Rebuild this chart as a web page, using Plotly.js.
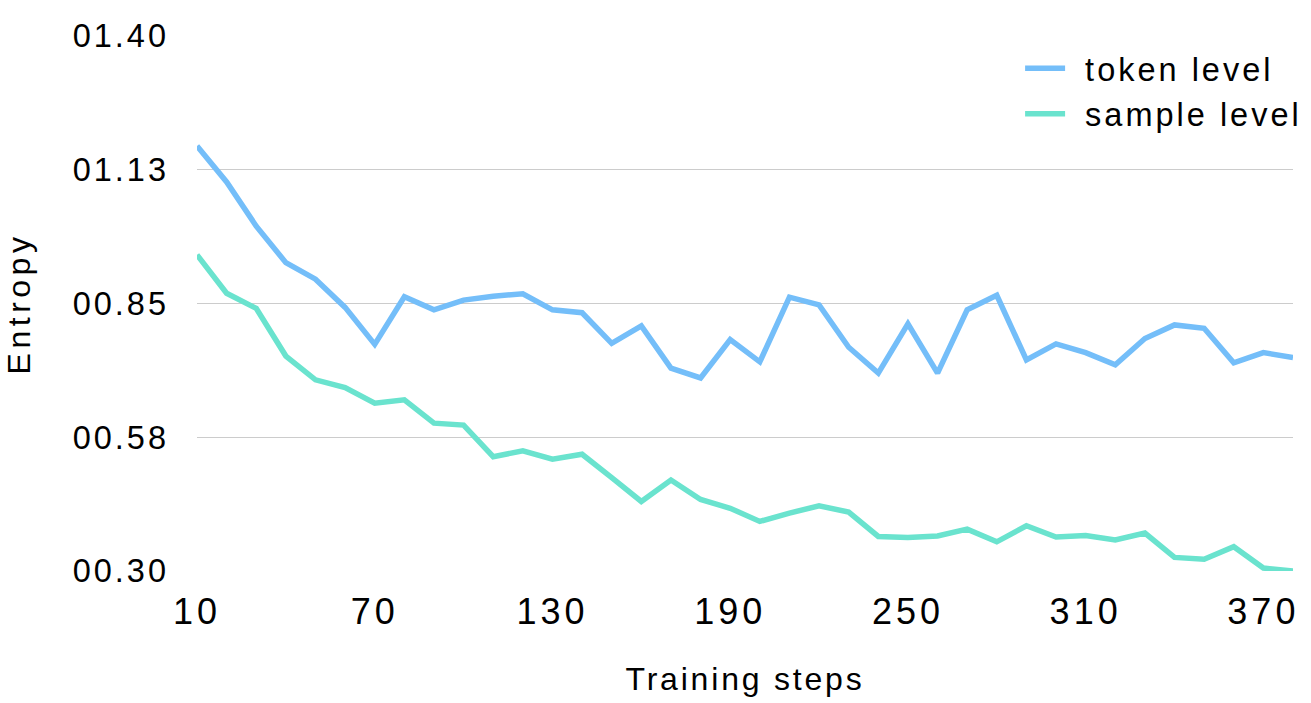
<!DOCTYPE html>
<html>
<head>
<meta charset="utf-8">
<script src="https://cdn.plot.ly/plotly-3.0.1.min.js"></script>
<style>
  html, body { margin: 0; padding: 0; background: #ffffff; }
  #chart { width: 1311px; height: 703px; }
  svg .ytick text { letter-spacing: 3px; }
  svg .xtick text { letter-spacing: 4px; }
  svg text.xtitle { letter-spacing: 2.8px; }
  svg text.ytitle { letter-spacing: 4.5px; }
  svg [class*="legend"] text { letter-spacing: 3px; transform: translateX(15px); }
  svg .scrollbox, svg [class*="legend"] .scrollbox { clip-path: none !important; }
</style>
</head>
<body>
<div id="chart"></div>
<script>
const steps = [10, 20, 30, 40, 50, 60, 70, 80, 90, 100, 110, 120, 130, 140, 150, 160, 170, 180, 190, 200,
               210, 220, 230, 240, 250, 260, 270, 280, 290, 300, 310, 320, 330, 340, 350, 360, 370, 380];
const tokenLevel = [1.174, 1.100, 1.009, 0.934, 0.900, 0.842, 0.766, 0.864, 0.837, 0.857,
                    0.865, 0.870, 0.837, 0.831, 0.768, 0.804, 0.717, 0.697, 0.776, 0.730,
                    0.863, 0.847, 0.760, 0.707, 0.808, 0.707, 0.837, 0.867, 0.734, 0.767,
                    0.749, 0.724, 0.778, 0.806, 0.799, 0.728, 0.749, 0.739];
const sampleLevel = [0.950, 0.871, 0.840, 0.742, 0.693, 0.677, 0.645, 0.652, 0.604, 0.600,
                     0.535, 0.547, 0.530, 0.540, 0.492, 0.443, 0.487, 0.447, 0.429, 0.402,
                     0.419, 0.434, 0.421, 0.371, 0.369, 0.372, 0.386, 0.360, 0.393, 0.370,
                     0.373, 0.364, 0.378, 0.328, 0.324, 0.350, 0.306, 0.300];
const xTickVals = [10, 70, 130, 190, 250, 310, 370];
const yTickVals = [0.30, 0.575, 0.85, 1.125, 1.40];
const yTickText = ["00.30", "00.58", "00.85", "01.13", "01.40"];
const seriesNames = ["token level", "sample level"];

const FONT = '"Liberation Sans", Arial, Helvetica, sans-serif';

const traces = [
  {
    x: steps, y: tokenLevel, name: seriesNames[0], type: 'scatter', mode: 'lines',
    line: { color: '#74BEF9', width: 5.5 }, legend: 'legend'
  },
  {
    x: steps, y: sampleLevel, name: seriesNames[1], type: 'scatter', mode: 'lines',
    line: { color: '#6AE3CE', width: 5.5 }, legend: 'legend2'
  }
];

const legendCommon = {
  xanchor: 'left', yanchor: 'middle', itemwidth: 40,
  bgcolor: 'rgba(0,0,0,0)', font: { family: FONT, size: 32.5, color: '#000' }
};

const layout = {
  width: 1311, height: 703,
  margin: { l: 197, r: 18, t: 36, b: 132 },
  paper_bgcolor: '#ffffff', plot_bgcolor: '#ffffff',
  font: { family: FONT, size: 32, color: '#000000' },
  xaxis: {
    range: [10, 380],
    tickvals: xTickVals,
    ticktext: xTickVals.map(String),
    showgrid: false, zeroline: false, showline: false,
    ticks: '', ticklabelstandoff: 16,
    tickfont: { family: FONT, size: 36, color: '#000' },
    title: { text: 'Training steps', font: { family: FONT, size: 32, color: '#000' }, standoff: 36 }
  },
  yaxis: {
    range: [0.30, 1.40],
    tickvals: yTickVals,
    ticktext: yTickText,
    showgrid: true, gridcolor: '#cccccc', gridwidth: 1,
    zeroline: false, showline: false,
    ticks: '', ticklabelstandoff: 27,
    tickfont: { family: FONT, size: 32.5, color: '#000' },
    title: { text: 'Entropy', font: { family: FONT, size: 32, color: '#000' }, standoff: 32 }
  },
  showlegend: true,
  legend: Object.assign({ x: 0.751, y: 0.939 }, legendCommon),
  legend2: Object.assign({ x: 0.751, y: 0.854 }, legendCommon)
};

Plotly.newPlot('chart', traces, layout, { displayModeBar: false, staticPlot: true });
</script>
</body>
</html>
